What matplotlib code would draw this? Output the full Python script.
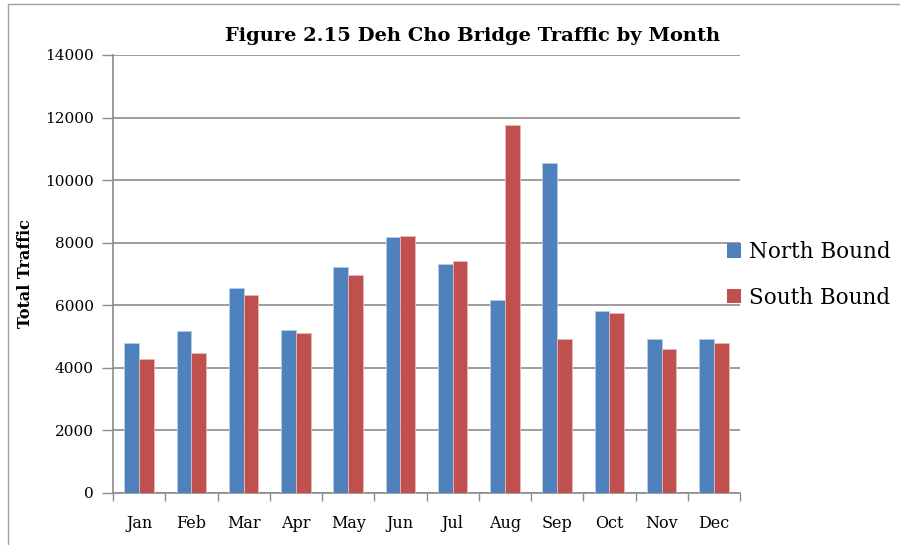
import numpy as np
import matplotlib
matplotlib.use("Agg")
import matplotlib.pyplot as plt
from matplotlib.patches import Rectangle, Patch

months = ["Jan", "Feb", "Mar", "Apr", "May", "Jun",
          "Jul", "Aug", "Sep", "Oct", "Nov", "Dec"]
north_bound = [4800, 5180, 6540, 5220, 7230, 8180,
               7330, 6180, 10540, 5820, 4920, 4920]
south_bound = [4290, 4490, 6340, 5130, 6960, 8230,
               7430, 11750, 4920, 5760, 4610, 4810]
y_ticks = [0, 2000, 4000, 6000, 8000, 10000, 12000, 14000]

BLUE = "#4F81BD"
RED = "#C0504D"
GRID = "#8C8C8C"

plt.rcParams["font.family"] = ["DejaVu Serif"]

fig = plt.figure(figsize=(9, 5.45), dpi=100)
ax = fig.add_axes([113 / 900, 1 - 493 / 545, (740 - 113) / 900, (493 - 55) / 545])

x = np.arange(len(months))
w = 0.28
ax.bar(x - w / 2, north_bound, w, color=BLUE, edgecolor="#B9CDE5", linewidth=0.6,
       label="North Bound", zorder=3)
ax.bar(x + w / 2, south_bound, w, color=RED, edgecolor="#E6B9B8", linewidth=0.6,
       label="South Bound", zorder=3)

ax.set_xlim(-0.5, len(months) - 0.5)
ax.set_ylim(0, 14000)
ax.set_yticks(y_ticks)
ax.set_yticklabels([str(v) for v in y_ticks], fontsize=11)
ax.set_xticks(x)
ax.set_xticklabels(months, fontsize=11.5)
ax.tick_params(axis="x", length=0, pad=16)
# category boundary ticks
ax.set_xticks(np.arange(-0.5, len(months)), minor=True)
ax.tick_params(axis="x", which="minor", length=6, color=GRID, width=1)
ax.tick_params(axis="y", length=8, color=GRID, width=1, pad=6)

ax.yaxis.grid(True, color=GRID, linewidth=1.2, zorder=0)
ax.set_axisbelow(True)
for s in ["top", "right"]:
    ax.spines[s].set_visible(False)
ax.spines["left"].set_color(GRID)
ax.spines["bottom"].set_color(GRID)
ax.spines["left"].set_linewidth(1.2)
ax.spines["bottom"].set_linewidth(1.2)

ax.set_ylabel("Total Traffic", fontsize=11.5, fontweight="bold", labelpad=8)
fig.text(473 / 900, 1 - 36 / 545, "Figure 2.15 Deh Cho Bridge Traffic by Month",
         ha="center", va="center", fontsize=14, fontweight="bold")

handles = [Patch(facecolor=BLUE), Patch(facecolor=RED)]
fig.legend(handles, ["North Bound", "South Bound"], loc="upper left",
           bbox_to_anchor=(727 / 900, 1 - 241 / 545), frameon=False,
           fontsize=15.5, handlelength=0.65, handleheight=0.65, handletextpad=0.35,
           labelspacing=1.1, borderaxespad=0, borderpad=0)

fig.patches.append(Rectangle((8 / 900, -0.01), 1.0, 1 - 4 / 545 + 0.01,
                             transform=fig.transFigure, fill=False,
                             edgecolor="#A0A0A0", linewidth=1))

fig.savefig("out.png", dpi=100)
